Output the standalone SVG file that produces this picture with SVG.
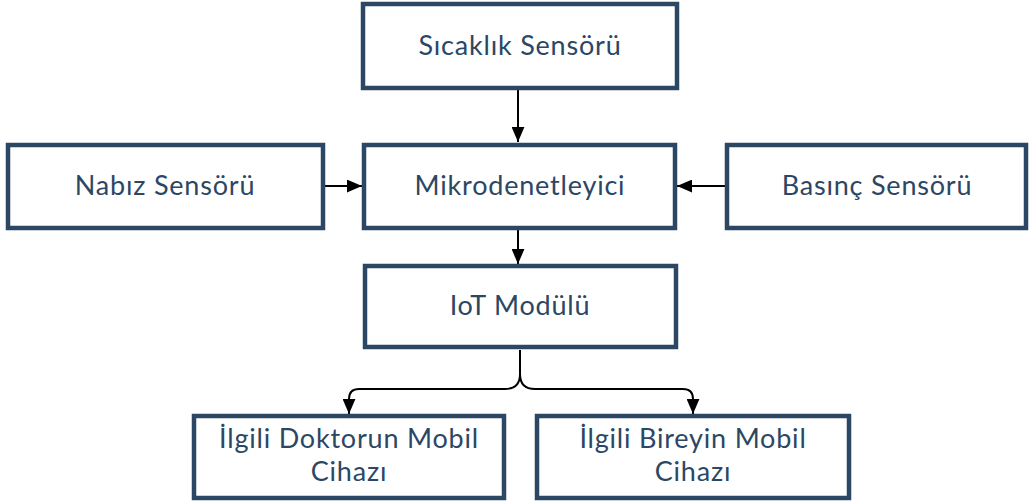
<svg xmlns="http://www.w3.org/2000/svg" width="1029" height="503" viewBox="0 0 1029 503">
<style>
.box{fill:#fff;stroke:#2c4763;stroke-width:4.5}
.lbl{font-family:Lato,"Open Sans",sans-serif;font-size:27px;letter-spacing:0.8px;fill:#2c4763;text-anchor:middle}
.con{fill:none;stroke:#000;stroke-width:2}
</style>
<defs>
<marker id="arr" viewBox="0 0 14 12" refX="14" refY="6" markerWidth="15" markerHeight="13" orient="auto" markerUnits="userSpaceOnUse">
<path d="M0,0 L14,6 L0,12 Z" fill="#000"/>
</marker>
</defs>
<rect width="1029" height="503" fill="#fff"/>
<g id="connectors">
<path class="con" d="M518,90 V142" marker-end="url(#arr)"/>
<path class="con" d="M325,186 H362" marker-end="url(#arr)"/>
<path class="con" d="M725,186 H677" marker-end="url(#arr)"/>
<path class="con" d="M518,230 V264" marker-end="url(#arr)"/>
<path class="con" d="M520,350 V374 Q520,389 505,389 H359 Q349,389 349,399 V414" marker-end="url(#arr)"/>
<path class="con" d="M520,374 Q520,389 535,389 H683 Q693,389 693,399 V414" marker-end="url(#arr)"/>
</g>
<g id="sicaklik">
<rect class="box" x="363" y="4" width="314" height="84"/>
<text class="lbl" x="520" y="55">Sıcaklık Sensörü</text>
</g>
<g id="nabiz">
<rect class="box" x="8" y="145" width="315" height="83"/>
<text class="lbl" x="165" y="195">Nabız Sensörü</text>
</g>
<g id="mikro">
<rect class="box" x="364" y="145" width="311" height="83"/>
<text class="lbl" x="520" y="195">Mikrodenetleyici</text>
</g>
<g id="basinc">
<rect class="box" x="727" y="145" width="299" height="83"/>
<text class="lbl" x="877" y="195">Basınç Sensörü</text>
</g>
<g id="iot">
<rect class="box" x="365" y="266" width="311" height="81"/>
<text class="lbl" x="520" y="315">IoT Modülü</text>
</g>
<g id="doktor">
<rect class="box" x="194" y="416" width="310" height="82"/>
<text class="lbl" x="349" y="448">İlgili Doktorun Mobil</text>
<text class="lbl" x="349" y="481">Cihazı</text>
</g>
<g id="birey">
<rect class="box" x="537" y="416" width="312" height="82"/>
<text class="lbl" x="693" y="448">İlgili Bireyin Mobil</text>
<text class="lbl" x="693" y="481">Cihazı</text>
</g>
</svg>
